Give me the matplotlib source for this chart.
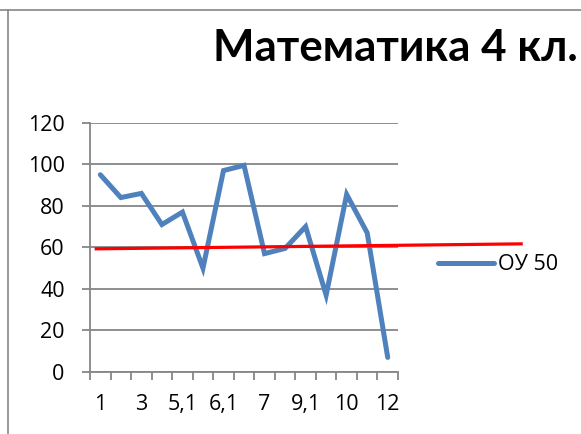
import numpy as np
import matplotlib.pyplot as plt
from matplotlib.lines import Line2D

plt.rcParams['font.family'] = ['Open Sans', 'DejaVu Sans']

# -------------------------
# Data
# -------------------------

categories = ["1", "2", "3", "4", "5,1", "5,2", "6,1", "6,2", "7", "8",
              "9,1", "9,2", "10", "11", "12"]
ou50 = [95, 84, 86, 71, 77, 50, 97, 99.5, 57, 59.5, 70, 37, 85.5, 67, 7]

# red reference line (drawn across the chart)
ref_x = [-0.2, 20.5]
ref_y = [59.3, 61.7]

grid_color = "#868686"

# -------------------------
# Figure
# -------------------------

fig = plt.figure(figsize=(5.81, 4.34), dpi=100)
ax = fig.add_axes([0.155, 0.143, 0.530, 0.574])

x = np.arange(len(categories))

ax.plot(x, ou50, color="#4F81BD", linewidth=3.6, label="ОУ 50",
        solid_capstyle="round", solid_joinstyle="miter", zorder=3)
ax.plot(ref_x, ref_y, color="#FF0000", linewidth=2.3, clip_on=False, zorder=4)

ax.set_xlim(-0.5, len(categories) - 0.5)
ax.set_ylim(0, 120)
ax.set_yticks(range(0, 121, 20))

# tick marks at category boundaries, labels on every other category
ax.set_xticks(np.arange(-0.5, len(categories), 1.0))
ax.set_xticklabels([])
ax.set_xticks(x[::2], minor=True)
ax.set_xticklabels(categories[::2], minor=True)
ax.tick_params(axis="x", which="major", length=5.8, width=1.3, color=grid_color,
               direction="out")
ax.tick_params(axis="x", which="minor", length=0, pad=16, labelsize=15.5)
ax.tick_params(axis="y", length=5.8, width=1.3, color=grid_color, pad=12.5,
               labelsize=15.5)

ax.grid(axis="y", color=grid_color, linewidth=1.3)
ax.set_axisbelow(True)
for side in ["top", "right"]:
    ax.spines[side].set_visible(False)
for side in ["left", "bottom"]:
    ax.spines[side].set_color(grid_color)
    ax.spines[side].set_linewidth(1.3)

# -------------------------
# Title and legend
# -------------------------

fig.text(0.995, 0.89, "Математика 4 кл.", ha="right", va="center",
         fontsize=31.7, fontweight="bold", family=["Lato", "DejaVu Sans"])

ax.legend(loc="center left", bbox_to_anchor=(0.72, 0.39),
          bbox_transform=fig.transFigure, frameon=False, fontsize=15.5,
          handlelength=2.6, handletextpad=0.19)

# chart border (cropped)
fig.add_artist(Line2D([0, 1], [0.976, 0.976], color="#868686", linewidth=1.2,
                      transform=fig.transFigure))
fig.add_artist(Line2D([0.013, 0.013], [0, 0.976], color="#868686",
                      linewidth=1.2, transform=fig.transFigure))

fig.savefig("out.png", dpi=100)
